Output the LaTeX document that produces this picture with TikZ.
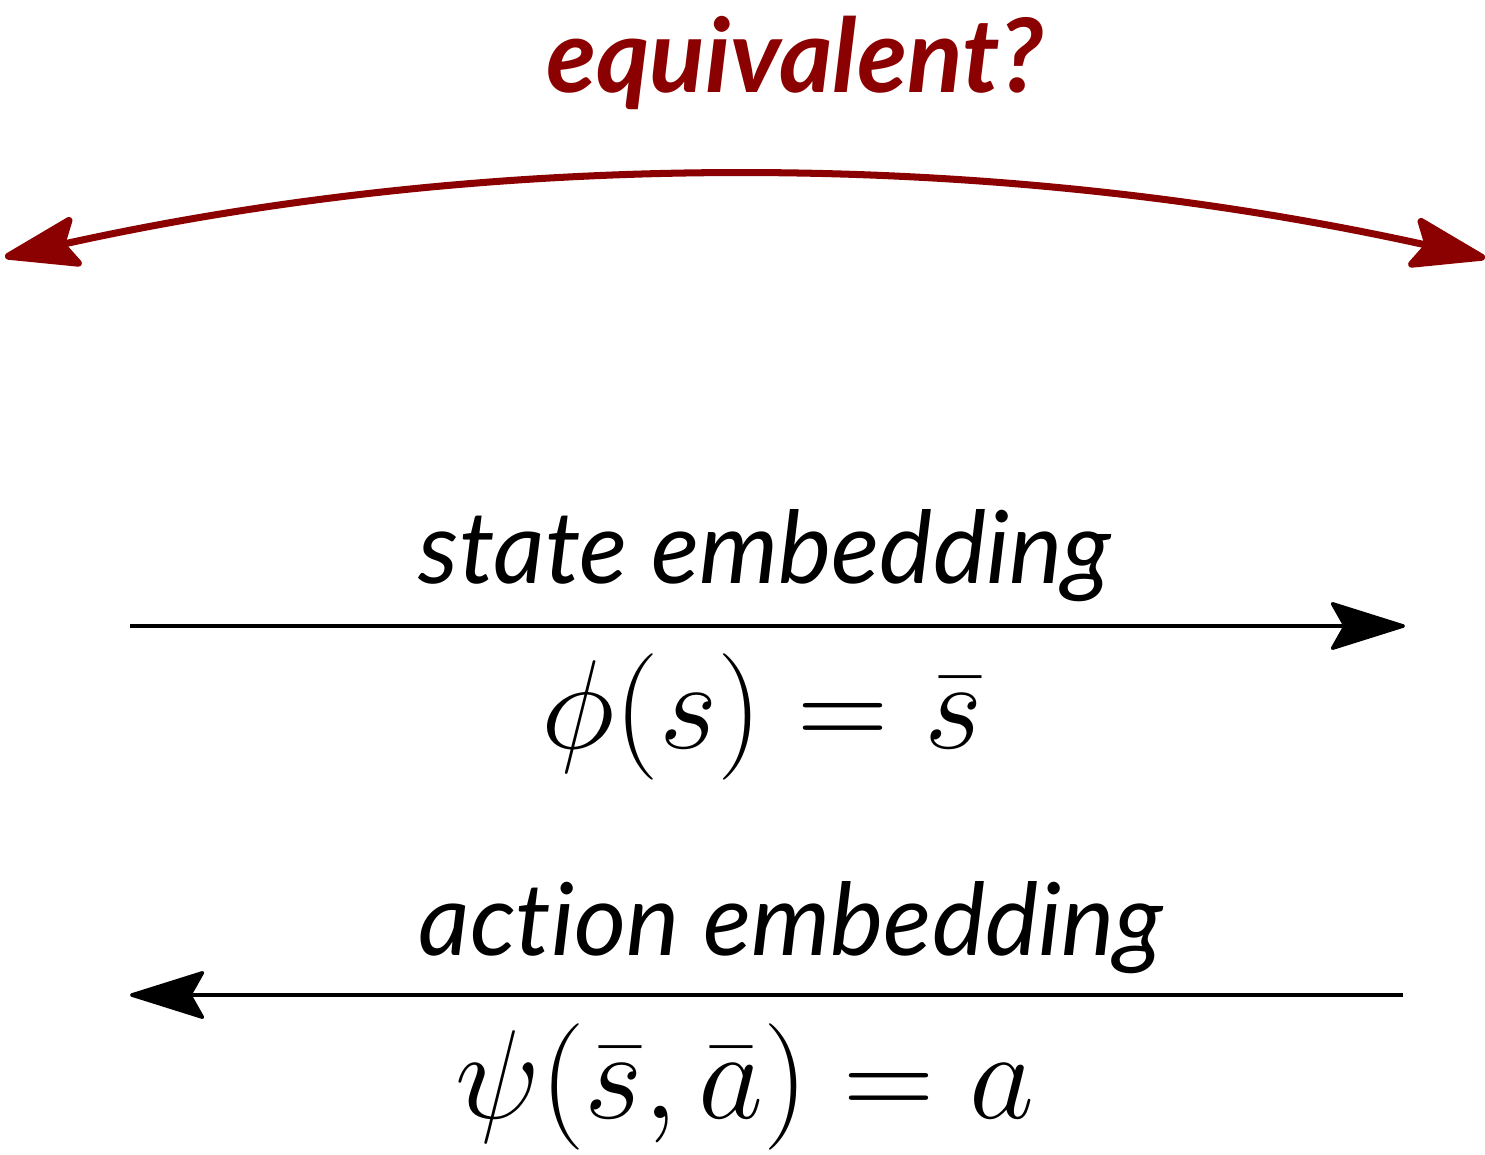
\RequirePackage{fix-cm}
\documentclass[tikz,border=0pt]{standalone}
\usepackage{fontspec}
\setmainfont[Ligatures=NoCommon]{Lato}
\usetikzlibrary{arrows.meta}
\definecolor{eqred}{HTML}{8B0000}
\tikzset{
  lbl/.style={anchor=base, inner sep=0pt, font=\fontsize{57.2}{66}\selectfont\itshape},
  mth/.style={anchor=base, inner sep=0pt, font=\fontsize{72}{84}\selectfont},
  flow/.style={line width=2pt, -{Stealth[length=1.6cm, width=1.0cm, inset=0.28cm, round]}},
  eqtip/.style={},
  equiv/.style={draw=eqred, line width=4pt, {Stealth[length=1.7cm, width=1.1cm, inset=0.3cm, round]}-{Stealth[length=1.7cm, width=1.1cm, inset=0.3cm, round]}},
}
\begin{document}
\begin{tikzpicture}[x=0.02cm, y=-0.02cm]
\useasboundingbox (0,0) rectangle (1485,1154);
\node[anchor=base, inner sep=0pt, text=eqred, font=\fontsize{58.5}{68}\selectfont\bfseries\itshape] (eq) at (795,92) {equivalent?};
\coordinate (eL) at (5,257);
\coordinate (eR) at (1485,258);
\draw[equiv] (eL) .. controls (498,148) and (992,149) .. (eR);

\node[lbl] (se) at (765,583) {state embedding};
\coordinate (s1) at (130,626);
\coordinate (s2) at (1405,626);
\draw[flow] (s1) -- (s2);
\node[mth] (phi) at (762,748) {$\phi(s) = \bar{s}$};

\node[lbl] (ae) at (791,955) {action embedding};
\coordinate (a1) at (1403,995);
\coordinate (a2) at (130,995);
\draw[flow] (a1) -- (a2);
\node[mth] (psi) at (745,1118) {$\psi(\bar{s}, \bar{a}) = a$};
\end{tikzpicture}
\end{document}
